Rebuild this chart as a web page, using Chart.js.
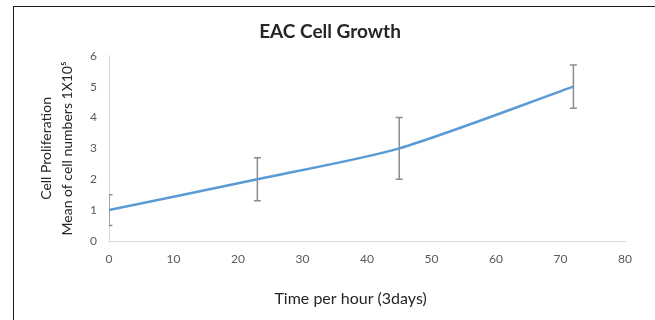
<!DOCTYPE html>
<html>
<head>
<meta charset="utf-8">
<script src="https://cdn.jsdelivr.net/npm/chart.js@4.4.1/dist/chart.umd.min.js"></script>
<style>
  html, body { margin: 0; padding: 0; background: #fff; overflow: hidden; }
  #wrap { position: relative; width: 655px; height: 320px; }
  #frame { position: absolute; left: 13px; top: 6px; width: 700px; height: 400px;
           border: 1.5px solid #1a1a1a; pointer-events: none; }
  canvas { position: absolute; left: 0; top: 0; }
</style>
</head>
<body>
<div id="wrap">
  <canvas id="growthChart" width="655" height="320"></canvas>
  <div id="frame"></div>
</div>
<script>
// data
const hours = [0, 23, 45, 72];
const meanCells = [1, 2, 3, 5];
const errLow = [0.5, 1.3, 2.0, 4.3];
const errHigh = [1.5, 2.7, 4.0, 5.7];
const xTicks = [0, 10, 20, 30, 40, 50, 60, 70, 80];
const yTicks = [0, 1, 2, 3, 4, 5, 6];

const FONT = 'Lato, "Open Sans", sans-serif';
const TXT = '#595959';

// error bars drawn through the scales
const errorBars = {
    id: 'errorBars',
    beforeDatasetsDraw(chart) {
        const { ctx, chartArea, scales: { x, y } } = chart;
        ctx.save();
        ctx.beginPath();
        ctx.rect(chartArea.left, chartArea.top - 10, chartArea.width, chartArea.height + 20);
        ctx.clip();
        ctx.strokeStyle = '#8c8c8c';
        ctx.lineWidth = 1.5;
        hours.forEach((h, i) => {
            const px = x.getPixelForValue(h);
            const top = y.getPixelForValue(errHigh[i]);
            const bot = y.getPixelForValue(errLow[i]);
            ctx.beginPath();
            ctx.moveTo(px, top); ctx.lineTo(px, bot);
            ctx.moveTo(px - 3.5, top); ctx.lineTo(px + 3.5, top);
            ctx.moveTo(px - 3.5, bot); ctx.lineTo(px + 3.5, bot);
            ctx.stroke();
        });
        ctx.restore();
    }
};

const ctx = document.getElementById('growthChart').getContext('2d');
new Chart(ctx, {
    type: 'scatter',
    data: {
        datasets: [{
            data: hours.map((h, i) => ({ x: h, y: meanCells[i] })),
            showLine: true,
            borderColor: '#5b9bd5',
            borderWidth: 2.5,
            pointRadius: 0,
            tension: 0.25
        }]
    },
    options: {
        responsive: false,
        animation: false,
        layout: { padding: { top: 0, right: 0, bottom: 0, left: 5 } },
        plugins: {
            legend: { display: false },
            tooltip: { enabled: false },
            title: {
                display: true,
                text: 'EAC Cell Growth',
                color: '#262626',
                font: { family: FONT, size: 19, weight: 'bold' },
                padding: { top: 20, bottom: 13 }
            }
        },
        scales: {
            x: {
                type: 'linear',
                min: 0, max: 80,
                afterBuildTicks: s => { s.ticks = xTicks.map(v => ({ value: v })); },
                afterFit: s => { s.height = 79; },
                grid: { display: false, drawTicks: false },
                border: { color: '#d9d9d9', width: 1 },
                ticks: { color: TXT, padding: 11, font: { family: FONT, size: 12 } },
                title: {
                    display: true,
                    text: 'Time per hour (3days)        ',
                    color: '#262626',
                    font: { family: FONT, size: 16 },
                    padding: { top: 4, bottom: 12 }
                }
            },
            y: {
                type: 'linear',
                min: 0, max: 6,
                afterBuildTicks: s => { s.ticks = yTicks.map(v => ({ value: v })); },
                afterFit: s => { s.width = 104; },
                grid: { display: false, drawTicks: false },
                border: { color: '#d9d9d9', width: 1 },
                ticks: { color: TXT, padding: 12, font: { family: FONT, size: 12 } },
                title: {
                    display: true,
                    text: ['Cell Proliferation', 'Mean of cell numbers 1X10\u2075'],
                    color: '#262626',
                    font: { family: FONT, size: 14, lineHeight: 1.5 },
                    padding: { top: 31, bottom: 0 }
                }
            },
            // empty right-side axis that only reserves the gap after 80
            yRight: {
                type: 'linear',
                position: 'right',
                display: true,
                afterFit: s => { s.width = 30; },
                grid: { display: false, drawTicks: false },
                border: { display: false },
                ticks: { display: false }
            }
        }
    },
    plugins: [errorBars]
});
</script>
</body>
</html>
